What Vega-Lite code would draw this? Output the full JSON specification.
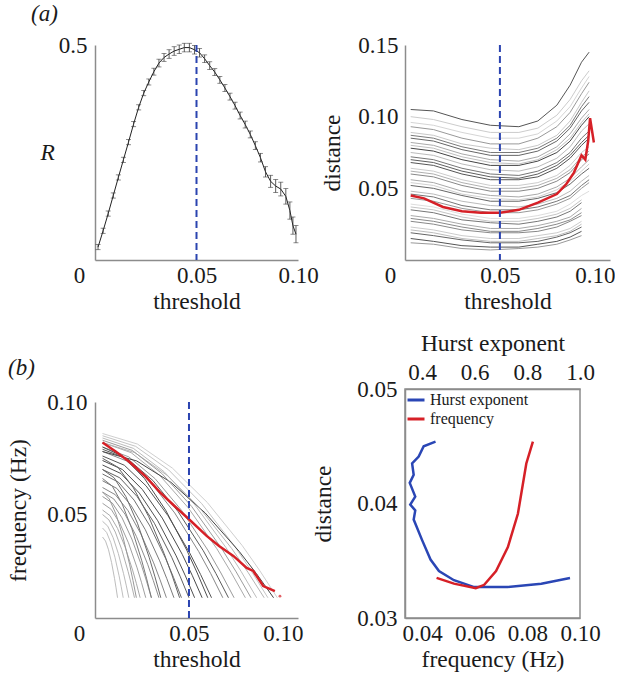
{
"$schema": "https://vega.github.io/schema/vega-lite/v6.json",
"padding": {"left": 6, "top": 3, "right": 0, "bottom": 0},
"spacing": -8,
"config": {
 "font": "Liberation Serif",
 "view": {"stroke": null},
 "axis": {"domainColor": "#8c8c8c", "domainWidth": 1.5, "ticks": false, "tickSize": 0, "grid": false, "labelFont": "Liberation Serif", "labelFontSize": 23, "labelColor": "#1a1a1a", "titleFont": "Liberation Serif", "titleFontSize": 23.5, "titleFontWeight": "normal", "titleColor": "#1a1a1a", "labelFlush": false, "labelOverlap": false},
 "title": {"font": "Liberation Serif", "fontSize": 23, "fontWeight": "normal", "color": "#1a1a1a"}
},
"datasets": {
 "R": [
  {"t":0.0015,"R":0.030,"e":0.006},{"t":0.004,"R":0.068,"e":0.006},{"t":0.0065,"R":0.108,"e":0.006},{"t":0.009,"R":0.150,"e":0.006},{"t":0.0115,"R":0.192,"e":0.006},{"t":0.014,"R":0.233,"e":0.006},{"t":0.0165,"R":0.274,"e":0.006},{"t":0.019,"R":0.316,"e":0.006},{"t":0.0215,"R":0.355,"e":0.006},{"t":0.024,"R":0.388,"e":0.006},{"t":0.0265,"R":0.414,"e":0.007},{"t":0.029,"R":0.438,"e":0.008},{"t":0.0315,"R":0.458,"e":0.009},{"t":0.034,"R":0.471,"e":0.009},{"t":0.0365,"R":0.479,"e":0.01},{"t":0.039,"R":0.486,"e":0.01},{"t":0.0415,"R":0.490,"e":0.01},{"t":0.044,"R":0.494,"e":0.01},{"t":0.0465,"R":0.494,"e":0.01},{"t":0.049,"R":0.489,"e":0.01},{"t":0.0515,"R":0.482,"e":0.01},{"t":0.054,"R":0.468,"e":0.009},{"t":0.0565,"R":0.452,"e":0.009},{"t":0.059,"R":0.437,"e":0.008},{"t":0.0615,"R":0.419,"e":0.008},{"t":0.064,"R":0.400,"e":0.008},{"t":0.0665,"R":0.380,"e":0.008},{"t":0.069,"R":0.359,"e":0.008},{"t":0.0715,"R":0.336,"e":0.008},{"t":0.074,"R":0.315,"e":0.008},{"t":0.0765,"R":0.292,"e":0.008},{"t":0.079,"R":0.266,"e":0.009},{"t":0.0815,"R":0.238,"e":0.01},{"t":0.084,"R":0.205,"e":0.012},{"t":0.0865,"R":0.183,"e":0.014},{"t":0.089,"R":0.172,"e":0.015},{"t":0.0915,"R":0.165,"e":0.016},{"t":0.094,"R":0.148,"e":0.018},{"t":0.096,"R":0.115,"e":0.02},{"t":0.0975,"R":0.080,"e":0.02},{"t":0.099,"R":0.060,"e":0.02}
 ],
 "dist": [
  {"g":1,"t":0.003,"d":0.105},{"g":1,"t":0.015,"d":0.104},{"g":1,"t":0.03,"d":0.098},{"g":1,"t":0.045,"d":0.094},{"g":1,"t":0.06,"d":0.093},{"g":1,"t":0.07,"d":0.097},{"g":1,"t":0.08,"d":0.108},{"g":1,"t":0.087,"d":0.122},{"g":1,"t":0.093,"d":0.138},{"g":1,"t":0.097,"d":0.145},
  {"g":2,"t":0.003,"d":0.100},{"g":2,"t":0.015,"d":0.098},{"g":2,"t":0.03,"d":0.093},{"g":2,"t":0.045,"d":0.089},{"g":2,"t":0.06,"d":0.089},{"g":2,"t":0.07,"d":0.092},{"g":2,"t":0.08,"d":0.101},{"g":2,"t":0.087,"d":0.112},{"g":2,"t":0.093,"d":0.125},{"g":2,"t":0.097,"d":0.132},
  {"g":3,"t":0.003,"d":0.093},{"g":3,"t":0.015,"d":0.091},{"g":3,"t":0.03,"d":0.085},{"g":3,"t":0.045,"d":0.081},{"g":3,"t":0.06,"d":0.081},{"g":3,"t":0.07,"d":0.085},{"g":3,"t":0.08,"d":0.093},{"g":3,"t":0.087,"d":0.103},{"g":3,"t":0.093,"d":0.116},{"g":3,"t":0.097,"d":0.124},
  {"g":4,"t":0.003,"d":0.089},{"g":4,"t":0.015,"d":0.087},{"g":4,"t":0.03,"d":0.081},{"g":4,"t":0.045,"d":0.078},{"g":4,"t":0.06,"d":0.077},{"g":4,"t":0.07,"d":0.080},{"g":4,"t":0.08,"d":0.087},{"g":4,"t":0.087,"d":0.097},{"g":4,"t":0.093,"d":0.110},{"g":4,"t":0.097,"d":0.118},
  {"g":5,"t":0.003,"d":0.085},{"g":5,"t":0.015,"d":0.083},{"g":5,"t":0.03,"d":0.077},{"g":5,"t":0.045,"d":0.073},{"g":5,"t":0.06,"d":0.073},{"g":5,"t":0.07,"d":0.076},{"g":5,"t":0.08,"d":0.083},{"g":5,"t":0.087,"d":0.092},{"g":5,"t":0.093,"d":0.104},{"g":5,"t":0.097,"d":0.110},
  {"g":6,"t":0.003,"d":0.082},{"g":6,"t":0.015,"d":0.080},{"g":6,"t":0.03,"d":0.074},{"g":6,"t":0.045,"d":0.070},{"g":6,"t":0.06,"d":0.069},{"g":6,"t":0.07,"d":0.072},{"g":6,"t":0.08,"d":0.079},{"g":6,"t":0.087,"d":0.088},{"g":6,"t":0.093,"d":0.099},{"g":6,"t":0.097,"d":0.105},
  {"g":7,"t":0.003,"d":0.078},{"g":7,"t":0.015,"d":0.076},{"g":7,"t":0.03,"d":0.070},{"g":7,"t":0.045,"d":0.066},{"g":7,"t":0.06,"d":0.066},{"g":7,"t":0.07,"d":0.069},{"g":7,"t":0.08,"d":0.075},{"g":7,"t":0.087,"d":0.083},{"g":7,"t":0.093,"d":0.094},{"g":7,"t":0.097,"d":0.100},
  {"g":8,"t":0.003,"d":0.075},{"g":8,"t":0.015,"d":0.073},{"g":8,"t":0.03,"d":0.067},{"g":8,"t":0.045,"d":0.063},{"g":8,"t":0.06,"d":0.062},{"g":8,"t":0.07,"d":0.065},{"g":8,"t":0.08,"d":0.071},{"g":8,"t":0.087,"d":0.079},{"g":8,"t":0.093,"d":0.090},{"g":8,"t":0.097,"d":0.095},
  {"g":9,"t":0.003,"d":0.072},{"g":9,"t":0.015,"d":0.070},{"g":9,"t":0.03,"d":0.064},{"g":9,"t":0.045,"d":0.060},{"g":9,"t":0.06,"d":0.059},{"g":9,"t":0.07,"d":0.062},{"g":9,"t":0.08,"d":0.068},{"g":9,"t":0.087,"d":0.075},{"g":9,"t":0.093,"d":0.085},{"g":9,"t":0.097,"d":0.090},
  {"g":10,"t":0.003,"d":0.068},{"g":10,"t":0.015,"d":0.066},{"g":10,"t":0.03,"d":0.060},{"g":10,"t":0.045,"d":0.056},{"g":10,"t":0.06,"d":0.056},{"g":10,"t":0.07,"d":0.058},{"g":10,"t":0.08,"d":0.064},{"g":10,"t":0.087,"d":0.071},{"g":10,"t":0.093,"d":0.080},{"g":10,"t":0.097,"d":0.085},
  {"g":11,"t":0.003,"d":0.064},{"g":11,"t":0.015,"d":0.062},{"g":11,"t":0.03,"d":0.056},{"g":11,"t":0.045,"d":0.052},{"g":11,"t":0.06,"d":0.052},{"g":11,"t":0.07,"d":0.054},{"g":11,"t":0.08,"d":0.059},{"g":11,"t":0.087,"d":0.066},{"g":11,"t":0.093,"d":0.075},{"g":11,"t":0.097,"d":0.079},
  {"g":12,"t":0.003,"d":0.060},{"g":12,"t":0.015,"d":0.058},{"g":12,"t":0.03,"d":0.052},{"g":12,"t":0.045,"d":0.048},{"g":12,"t":0.06,"d":0.048},{"g":12,"t":0.07,"d":0.050},{"g":12,"t":0.08,"d":0.055},{"g":12,"t":0.087,"d":0.061},{"g":12,"t":0.093,"d":0.070},{"g":12,"t":0.097,"d":0.074},
  {"g":13,"t":0.003,"d":0.056},{"g":13,"t":0.015,"d":0.054},{"g":13,"t":0.03,"d":0.048},{"g":13,"t":0.045,"d":0.045},{"g":13,"t":0.06,"d":0.044},{"g":13,"t":0.07,"d":0.046},{"g":13,"t":0.08,"d":0.051},{"g":13,"t":0.087,"d":0.057},{"g":13,"t":0.093,"d":0.065},{"g":13,"t":0.097,"d":0.070},
  {"g":14,"t":0.003,"d":0.052},{"g":14,"t":0.015,"d":0.050},{"g":14,"t":0.03,"d":0.045},{"g":14,"t":0.045,"d":0.041},{"g":14,"t":0.06,"d":0.041},{"g":14,"t":0.07,"d":0.043},{"g":14,"t":0.08,"d":0.047},{"g":14,"t":0.087,"d":0.053},{"g":14,"t":0.093,"d":0.060},{"g":14,"t":0.097,"d":0.064},
  {"g":15,"t":0.003,"d":0.048},{"g":15,"t":0.015,"d":0.046},{"g":15,"t":0.03,"d":0.041},{"g":15,"t":0.045,"d":0.038},{"g":15,"t":0.06,"d":0.037},{"g":15,"t":0.07,"d":0.039},{"g":15,"t":0.08,"d":0.043},{"g":15,"t":0.087,"d":0.048},{"g":15,"t":0.093,"d":0.055},{"g":15,"t":0.097,"d":0.059},
  {"g":16,"t":0.003,"d":0.043},{"g":16,"t":0.015,"d":0.041},{"g":16,"t":0.03,"d":0.036},{"g":16,"t":0.045,"d":0.033},{"g":16,"t":0.06,"d":0.033},{"g":16,"t":0.07,"d":0.035},{"g":16,"t":0.08,"d":0.039},{"g":16,"t":0.087,"d":0.043},{"g":16,"t":0.093,"d":0.050},{"g":16,"t":0.097,"d":0.054},
  {"g":17,"t":0.003,"d":0.039},{"g":17,"t":0.015,"d":0.037},{"g":17,"t":0.03,"d":0.032},{"g":17,"t":0.045,"d":0.029},{"g":17,"t":0.06,"d":0.029},{"g":17,"t":0.07,"d":0.031},{"g":17,"t":0.08,"d":0.034},{"g":17,"t":0.087,"d":0.039},{"g":17,"t":0.093,"d":0.045},{"g":17,"t":0.097,"d":0.048},
  {"g":18,"t":0.003,"d":0.035},{"g":18,"t":0.015,"d":0.033},{"g":18,"t":0.03,"d":0.028},{"g":18,"t":0.045,"d":0.026},{"g":18,"t":0.06,"d":0.025},{"g":18,"t":0.07,"d":0.027},{"g":18,"t":0.08,"d":0.030},{"g":18,"t":0.087,"d":0.034},{"g":18,"t":0.093,"d":0.040},
  {"g":19,"t":0.003,"d":0.031},{"g":19,"t":0.015,"d":0.029},{"g":19,"t":0.03,"d":0.025},{"g":19,"t":0.045,"d":0.022},{"g":19,"t":0.06,"d":0.022},{"g":19,"t":0.07,"d":0.024},{"g":19,"t":0.08,"d":0.027},{"g":19,"t":0.087,"d":0.030},{"g":19,"t":0.093,"d":0.036},
  {"g":20,"t":0.003,"d":0.027},{"g":20,"t":0.015,"d":0.025},{"g":20,"t":0.03,"d":0.021},{"g":20,"t":0.045,"d":0.019},{"g":20,"t":0.06,"d":0.019},{"g":20,"t":0.07,"d":0.020},{"g":20,"t":0.08,"d":0.023},{"g":20,"t":0.087,"d":0.027},{"g":20,"t":0.093,"d":0.031},
  {"g":21,"t":0.003,"d":0.023},{"g":21,"t":0.015,"d":0.021},{"g":21,"t":0.03,"d":0.017},{"g":21,"t":0.045,"d":0.015},{"g":21,"t":0.06,"d":0.015},{"g":21,"t":0.07,"d":0.017},{"g":21,"t":0.08,"d":0.019},{"g":21,"t":0.087,"d":0.022},{"g":21,"t":0.093,"d":0.027},
  {"g":22,"t":0.003,"d":0.019},{"g":22,"t":0.015,"d":0.017},{"g":22,"t":0.03,"d":0.014},{"g":22,"t":0.045,"d":0.012},{"g":22,"t":0.06,"d":0.012},{"g":22,"t":0.07,"d":0.013},{"g":22,"t":0.08,"d":0.016},{"g":22,"t":0.087,"d":0.019},{"g":22,"t":0.093,"d":0.023},
  {"g":23,"t":0.003,"d":0.015},{"g":23,"t":0.015,"d":0.013},{"g":23,"t":0.03,"d":0.010},{"g":23,"t":0.045,"d":0.009},{"g":23,"t":0.06,"d":0.009},{"g":23,"t":0.07,"d":0.011},{"g":23,"t":0.08,"d":0.013},{"g":23,"t":0.087,"d":0.016},{"g":23,"t":0.093,"d":0.020},
  {"g":24,"t":0.003,"d":0.012},{"g":24,"t":0.015,"d":0.011},{"g":24,"t":0.03,"d":0.008},{"g":24,"t":0.045,"d":0.007},{"g":24,"t":0.06,"d":0.008},{"g":24,"t":0.07,"d":0.009},{"g":24,"t":0.08,"d":0.011},{"g":24,"t":0.087,"d":0.014},{"g":24,"t":0.093,"d":0.017},
  {"g":25,"t":0.003,"d":0.096},{"g":25,"t":0.015,"d":0.094},{"g":25,"t":0.03,"d":0.089},{"g":25,"t":0.045,"d":0.085},{"g":25,"t":0.06,"d":0.085},{"g":25,"t":0.07,"d":0.088},{"g":25,"t":0.08,"d":0.097},{"g":25,"t":0.087,"d":0.107},{"g":25,"t":0.093,"d":0.120},{"g":25,"t":0.097,"d":0.128},
  {"g":26,"t":0.003,"d":0.087},{"g":26,"t":0.015,"d":0.085},{"g":26,"t":0.03,"d":0.079},{"g":26,"t":0.045,"d":0.075},{"g":26,"t":0.06,"d":0.075},{"g":26,"t":0.07,"d":0.078},{"g":26,"t":0.08,"d":0.085},{"g":26,"t":0.087,"d":0.094},{"g":26,"t":0.093,"d":0.107},{"g":26,"t":0.097,"d":0.114},
  {"g":27,"t":0.003,"d":0.080},{"g":27,"t":0.015,"d":0.078},{"g":27,"t":0.03,"d":0.072},{"g":27,"t":0.045,"d":0.068},{"g":27,"t":0.06,"d":0.067},{"g":27,"t":0.07,"d":0.070},{"g":27,"t":0.08,"d":0.077},{"g":27,"t":0.087,"d":0.085},{"g":27,"t":0.093,"d":0.096},{"g":27,"t":0.097,"d":0.102},
  {"g":28,"t":0.003,"d":0.070},{"g":28,"t":0.015,"d":0.068},{"g":28,"t":0.03,"d":0.062},{"g":28,"t":0.045,"d":0.058},{"g":28,"t":0.06,"d":0.057},{"g":28,"t":0.07,"d":0.060},{"g":28,"t":0.08,"d":0.066},{"g":28,"t":0.087,"d":0.073},{"g":28,"t":0.093,"d":0.082},{"g":28,"t":0.097,"d":0.087},
  {"g":29,"t":0.003,"d":0.062},{"g":29,"t":0.015,"d":0.060},{"g":29,"t":0.03,"d":0.054},{"g":29,"t":0.045,"d":0.050},{"g":29,"t":0.06,"d":0.050},{"g":29,"t":0.07,"d":0.052},{"g":29,"t":0.08,"d":0.057},{"g":29,"t":0.087,"d":0.063},{"g":29,"t":0.093,"d":0.072},{"g":29,"t":0.097,"d":0.076},
  {"g":30,"t":0.003,"d":0.054},{"g":30,"t":0.015,"d":0.052},{"g":30,"t":0.03,"d":0.046},{"g":30,"t":0.045,"d":0.043},{"g":30,"t":0.06,"d":0.042},{"g":30,"t":0.07,"d":0.044},{"g":30,"t":0.08,"d":0.049},{"g":30,"t":0.087,"d":0.055},{"g":30,"t":0.093,"d":0.062},{"g":30,"t":0.097,"d":0.067},
  {"g":31,"t":0.003,"d":0.046},{"g":31,"t":0.015,"d":0.044},{"g":31,"t":0.03,"d":0.038},{"g":31,"t":0.045,"d":0.035},{"g":31,"t":0.06,"d":0.035},{"g":31,"t":0.07,"d":0.037},{"g":31,"t":0.08,"d":0.041},{"g":31,"t":0.087,"d":0.045},{"g":31,"t":0.093,"d":0.052},{"g":31,"t":0.097,"d":0.056},
  {"g":32,"t":0.003,"d":0.037},{"g":32,"t":0.015,"d":0.035},{"g":32,"t":0.03,"d":0.030},{"g":32,"t":0.045,"d":0.027},{"g":32,"t":0.06,"d":0.027},{"g":32,"t":0.07,"d":0.029},{"g":32,"t":0.08,"d":0.032},{"g":32,"t":0.087,"d":0.036},{"g":32,"t":0.093,"d":0.042},
  {"g":33,"t":0.003,"d":0.029},{"g":33,"t":0.015,"d":0.027},{"g":33,"t":0.03,"d":0.023},{"g":33,"t":0.045,"d":0.020},{"g":33,"t":0.06,"d":0.020},{"g":33,"t":0.07,"d":0.022},{"g":33,"t":0.08,"d":0.025},{"g":33,"t":0.087,"d":0.028},{"g":33,"t":0.093,"d":0.033},
  {"g":34,"t":0.003,"d":0.021},{"g":34,"t":0.015,"d":0.019},{"g":34,"t":0.03,"d":0.015},{"g":34,"t":0.045,"d":0.013},{"g":34,"t":0.06,"d":0.013},{"g":34,"t":0.07,"d":0.015},{"g":34,"t":0.08,"d":0.017},{"g":34,"t":0.087,"d":0.020},{"g":34,"t":0.093,"d":0.025}
 ],
 "distRed": [
  {"t":0.003,"d":0.045},{"t":0.01,"d":0.043},{"t":0.02,"d":0.037},{"t":0.03,"d":0.034},{"t":0.04,"d":0.033},{"t":0.05,"d":0.033},{"t":0.06,"d":0.035},{"t":0.07,"d":0.040},{"t":0.08,"d":0.046},{"t":0.085,"d":0.053},{"t":0.089,"d":0.061},{"t":0.093,"d":0.073},{"t":0.095,"d":0.070},{"t":0.0965,"d":0.083},{"t":0.0975,"d":0.099},{"t":0.0995,"d":0.082}
 ],
 "freq": [
  {"k":1,"t":0.004,"f":0.086},{"k":1,"t":0.0226,"f":0.0813},{"k":1,"t":0.0412,"f":0.0706},{"k":1,"t":0.0598,"f":0.0553},{"k":1,"t":0.0784,"f":0.0361},{"k":1,"t":0.0877,"f":0.025},{"k":1,"t":0.097,"f":0.013},
  {"k":2,"t":0.004,"f":0.085},{"k":2,"t":0.0216,"f":0.0803},{"k":2,"t":0.0392,"f":0.0698},{"k":2,"t":0.0568,"f":0.0548},{"k":2,"t":0.0744,"f":0.0358},{"k":2,"t":0.0832,"f":0.0248},{"k":2,"t":0.092,"f":0.013},
  {"k":3,"t":0.004,"f":0.084},{"k":3,"t":0.0204,"f":0.0794},{"k":3,"t":0.0368,"f":0.069},{"k":3,"t":0.0532,"f":0.0542},{"k":3,"t":0.0696,"f":0.0354},{"k":3,"t":0.0778,"f":0.0246},{"k":3,"t":0.086,"f":0.013},
  {"k":4,"t":0.004,"f":0.082},{"k":4,"t":0.0192,"f":0.0775},{"k":4,"t":0.0344,"f":0.0674},{"k":4,"t":0.0496,"f":0.053},{"k":4,"t":0.0648,"f":0.0348},{"k":4,"t":0.0724,"f":0.0243},{"k":4,"t":0.080,"f":0.013},
  {"k":5,"t":0.004,"f":0.080},{"k":5,"t":0.018,"f":0.0756},{"k":5,"t":0.032,"f":0.0659},{"k":5,"t":0.046,"f":0.0519},{"k":5,"t":0.060,"f":0.0342},{"k":5,"t":0.067,"f":0.024},{"k":5,"t":0.074,"f":0.013},
  {"k":6,"t":0.004,"f":0.078},{"k":6,"t":0.0168,"f":0.0738},{"k":6,"t":0.0296,"f":0.0643},{"k":6,"t":0.0424,"f":0.0507},{"k":6,"t":0.0552,"f":0.0335},{"k":6,"t":0.0616,"f":0.0237},{"k":6,"t":0.068,"f":0.013},
  {"k":7,"t":0.004,"f":0.076},{"k":7,"t":0.0156,"f":0.0719},{"k":7,"t":0.0272,"f":0.0627},{"k":7,"t":0.0388,"f":0.0495},{"k":7,"t":0.0504,"f":0.0329},{"k":7,"t":0.0562,"f":0.0233},{"k":7,"t":0.062,"f":0.013},
  {"k":8,"t":0.004,"f":0.074},{"k":8,"t":0.0146,"f":0.0700},{"k":8,"t":0.0252,"f":0.0611},{"k":8,"t":0.0358,"f":0.0484},{"k":8,"t":0.0464,"f":0.0323},{"k":8,"t":0.0517,"f":0.023},{"k":8,"t":0.057,"f":0.013},
  {"k":9,"t":0.004,"f":0.072},{"k":9,"t":0.0138,"f":0.0682},{"k":9,"t":0.0236,"f":0.0595},{"k":9,"t":0.0334,"f":0.0472},{"k":9,"t":0.0432,"f":0.0316},{"k":9,"t":0.0481,"f":0.0227},{"k":9,"t":0.053,"f":0.013},
  {"k":10,"t":0.004,"f":0.070},{"k":10,"t":0.0132,"f":0.0663},{"k":10,"t":0.0224,"f":0.058},{"k":10,"t":0.0316,"f":0.0461},{"k":10,"t":0.0408,"f":0.031},{"k":10,"t":0.0454,"f":0.0223},{"k":10,"t":0.050,"f":0.013},
  {"k":11,"t":0.004,"f":0.068},{"k":11,"t":0.0124,"f":0.0644},{"k":11,"t":0.0208,"f":0.0564},{"k":11,"t":0.0292,"f":0.0449},{"k":11,"t":0.0376,"f":0.0304},{"k":11,"t":0.0418,"f":0.022},{"k":11,"t":0.046,"f":0.013},
  {"k":12,"t":0.004,"f":0.065},{"k":12,"t":0.0116,"f":0.0616},{"k":12,"t":0.0192,"f":0.054},{"k":12,"t":0.0268,"f":0.0432},{"k":12,"t":0.0344,"f":0.0294},{"k":12,"t":0.0382,"f":0.0215},{"k":12,"t":0.042,"f":0.013},
  {"k":13,"t":0.004,"f":0.062},{"k":13,"t":0.0108,"f":0.0588},{"k":13,"t":0.0176,"f":0.0517},{"k":13,"t":0.0244,"f":0.0414},{"k":13,"t":0.0312,"f":0.0285},{"k":13,"t":0.0346,"f":0.021},{"k":13,"t":0.038,"f":0.013},
  {"k":14,"t":0.004,"f":0.060},{"k":14,"t":0.010,"f":0.0569},{"k":14,"t":0.016,"f":0.0501},{"k":14,"t":0.022,"f":0.0403},{"k":14,"t":0.028,"f":0.0279},{"k":14,"t":0.031,"f":0.0207},{"k":14,"t":0.034,"f":0.013},
  {"k":15,"t":0.004,"f":0.058},{"k":15,"t":0.0092,"f":0.0551},{"k":15,"t":0.0144,"f":0.0485},{"k":15,"t":0.0196,"f":0.0391},{"k":15,"t":0.0248,"f":0.0272},{"k":15,"t":0.0274,"f":0.0204},{"k":15,"t":0.030,"f":0.013},
  {"k":16,"t":0.004,"f":0.055},{"k":16,"t":0.0086,"f":0.0523},{"k":16,"t":0.0132,"f":0.0461},{"k":16,"t":0.0178,"f":0.0374},{"k":16,"t":0.0224,"f":0.0263},{"k":16,"t":0.0247,"f":0.0199},{"k":16,"t":0.027,"f":0.013},
  {"k":17,"t":0.004,"f":0.052},{"k":17,"t":0.008,"f":0.0495},{"k":17,"t":0.012,"f":0.0438},{"k":17,"t":0.016,"f":0.0356},{"k":17,"t":0.020,"f":0.0253},{"k":17,"t":0.022,"f":0.0194},{"k":17,"t":0.024,"f":0.013},
  {"k":18,"t":0.004,"f":0.050},{"k":18,"t":0.0074,"f":0.0476},{"k":18,"t":0.0108,"f":0.0422},{"k":18,"t":0.0142,"f":0.0345},{"k":18,"t":0.0176,"f":0.0247},{"k":18,"t":0.0193,"f":0.0191},{"k":18,"t":0.021,"f":0.013},
  {"k":19,"t":0.004,"f":0.047},{"k":19,"t":0.0068,"f":0.0448},{"k":19,"t":0.0096,"f":0.0398},{"k":19,"t":0.0124,"f":0.0327},{"k":19,"t":0.0152,"f":0.0237},{"k":19,"t":0.0166,"f":0.0186},{"k":19,"t":0.018,"f":0.013},
  {"k":20,"t":0.004,"f":0.044},{"k":20,"t":0.0062,"f":0.042},{"k":20,"t":0.0084,"f":0.0375},{"k":20,"t":0.0106,"f":0.031},{"k":20,"t":0.0128,"f":0.0228},{"k":20,"t":0.0139,"f":0.0181},{"k":20,"t":0.015,"f":0.013},
  {"k":21,"t":0.004,"f":0.078},{"k":21,"t":0.0222,"f":0.0738},{"k":21,"t":0.0404,"f":0.0643},{"k":21,"t":0.0586,"f":0.0507},{"k":21,"t":0.0768,"f":0.0335},{"k":21,"t":0.0859,"f":0.0237},{"k":21,"t":0.095,"f":0.013},
  {"k":22,"t":0.004,"f":0.082},{"k":22,"t":0.0212,"f":0.0775},{"k":22,"t":0.0384,"f":0.0674},{"k":22,"t":0.0556,"f":0.053},{"k":22,"t":0.0728,"f":0.0348},{"k":22,"t":0.0814,"f":0.0243},{"k":22,"t":0.090,"f":0.013},
  {"k":23,"t":0.004,"f":0.040},{"k":23,"t":0.0056,"f":0.0382},{"k":23,"t":0.0072,"f":0.0343},{"k":23,"t":0.0088,"f":0.0287},{"k":23,"t":0.0104,"f":0.0215},{"k":23,"t":0.0112,"f":0.0174},{"k":23,"t":0.012,"f":0.013},
  {"k":24,"t":0.004,"f":0.060},{"k":24,"t":0.0076,"f":0.0569},{"k":24,"t":0.0112,"f":0.0501},{"k":24,"t":0.0148,"f":0.0403},{"k":24,"t":0.0184,"f":0.0279},{"k":24,"t":0.0202,"f":0.0207},{"k":24,"t":0.022,"f":0.013},
  {"k":25,"t":0.004,"f":0.070},{"k":25,"t":0.0102,"f":0.0663},{"k":25,"t":0.0164,"f":0.058},{"k":25,"t":0.0226,"f":0.0461},{"k":25,"t":0.0288,"f":0.031},{"k":25,"t":0.0319,"f":0.0223},{"k":25,"t":0.035,"f":0.013},
  {"k":26,"t":0.004,"f":0.066},{"k":26,"t":0.0092,"f":0.0626},{"k":26,"t":0.0144,"f":0.0548},{"k":26,"t":0.0196,"f":0.0437},{"k":26,"t":0.0248,"f":0.0297},{"k":26,"t":0.0274,"f":0.0217},{"k":26,"t":0.030,"f":0.013},
  {"k":27,"t":0.004,"f":0.079},{"k":27,"t":0.0174,"f":0.0747},{"k":27,"t":0.0308,"f":0.0651},{"k":27,"t":0.0442,"f":0.0513},{"k":27,"t":0.0576,"f":0.0339},{"k":27,"t":0.0643,"f":0.0238},{"k":27,"t":0.071,"f":0.013},
  {"k":28,"t":0.004,"f":0.083},{"k":28,"t":0.0198,"f":0.0785},{"k":28,"t":0.0356,"f":0.0682},{"k":28,"t":0.0514,"f":0.0536},{"k":28,"t":0.0672,"f":0.0351},{"k":28,"t":0.0751,"f":0.0245},{"k":28,"t":0.083,"f":0.013},
  {"k":29,"t":0.004,"f":0.075},{"k":29,"t":0.0122,"f":0.071},{"k":29,"t":0.0204,"f":0.0619},{"k":29,"t":0.0286,"f":0.049},{"k":29,"t":0.0368,"f":0.0326},{"k":29,"t":0.0409,"f":0.0232},{"k":29,"t":0.045,"f":0.013},
  {"k":30,"t":0.004,"f":0.080},{"k":30,"t":0.0152,"f":0.0757},{"k":30,"t":0.0264,"f":0.0659},{"k":30,"t":0.0376,"f":0.0519},{"k":30,"t":0.0488,"f":0.0342},{"k":30,"t":0.0544,"f":0.024},{"k":30,"t":0.060,"f":0.013}
 ],
 "freqRed": [
  {"t":0.004,"f":0.082},{"t":0.011,"f":0.078},{"t":0.0186,"f":0.0732},{"t":0.027,"f":0.0668},{"t":0.0346,"f":0.0598},{"t":0.042,"f":0.054},{"t":0.05,"f":0.0479},{"t":0.0594,"f":0.0405},{"t":0.066,"f":0.036},{"t":0.0736,"f":0.0316},{"t":0.0807,"f":0.0263},{"t":0.0842,"f":0.0249},{"t":0.0895,"f":0.0182},{"t":0.0957,"f":0.0159}
 ],
 "freqDot": [{"t":0.0984,"f":0.0137}],
 "hurst": [
  {"i":1,"h":0.451,"d":0.0454,"s":"Hurst exponent"},{"i":2,"h":0.406,"d":0.0450,"s":"Hurst exponent"},{"i":3,"h":0.387,"d":0.0441,"s":"Hurst exponent"},{"i":4,"h":0.362,"d":0.0435,"s":"Hurst exponent"},{"i":5,"h":0.368,"d":0.0425,"s":"Hurst exponent"},{"i":6,"h":0.353,"d":0.0418,"s":"Hurst exponent"},{"i":7,"h":0.374,"d":0.0406,"s":"Hurst exponent"},{"i":8,"h":0.355,"d":0.0399,"s":"Hurst exponent"},{"i":9,"h":0.374,"d":0.0394,"s":"Hurst exponent"},{"i":10,"h":0.368,"d":0.0386,"s":"Hurst exponent"},{"i":11,"h":0.400,"d":0.0368,"s":"Hurst exponent"},{"i":12,"h":0.432,"d":0.0351,"s":"Hurst exponent"},{"i":13,"h":0.464,"d":0.0341,"s":"Hurst exponent"},{"i":14,"h":0.521,"d":0.0333,"s":"Hurst exponent"},{"i":15,"h":0.598,"d":0.0327,"s":"Hurst exponent"},{"i":16,"h":0.725,"d":0.0327,"s":"Hurst exponent"},{"i":17,"h":0.853,"d":0.0330,"s":"Hurst exponent"},{"i":18,"h":0.962,"d":0.0335,"s":"Hurst exponent"}
 ],
 "freqDist": [
  {"f":0.0455,"d":0.0335,"s":"frequency"},{"f":0.0521,"d":0.0330,"s":"frequency"},{"f":0.0604,"d":0.0326,"s":"frequency"},{"f":0.0636,"d":0.0329,"s":"frequency"},{"f":0.0681,"d":0.0341,"s":"frequency"},{"f":0.0726,"d":0.0362,"s":"frequency"},{"f":0.0764,"d":0.0391,"s":"frequency"},{"f":0.0796,"d":0.0435,"s":"frequency"},{"f":0.0821,"d":0.0454,"s":"frequency"}
 ]
},
"resolve": {"scale": {"x": "independent", "y": "independent", "color": "independent"}},
"hconcat": [
 {
  "bounds": "flush",
  "spacing": 142,
  "resolve": {"scale": {"x": "independent", "y": "independent", "color": "independent"}},
  "vconcat": [
   {
    "width": 203, "height": 215,
    "title": {"text": "(a)", "anchor": "start", "frame": "group", "dx": -64, "offset": 8, "fontStyle": "italic"},
    "layer": [
     {"data": {"name": "R"}, "mark": {"type": "line", "color": "#222222", "strokeWidth": 1},
      "encoding": {
       "x": {"field": "t", "type": "quantitative", "scale": {"domain": [0, 0.1], "nice": false},
             "axis": {"values": [0, 0.05, 0.1], "labelExpr": "datum.value == 0 ? '0' : format(datum.value, '.2f')", "title": "threshold", "labelPadding": 4, "titlePadding": 2, "labelOffset": {"condition": {"test": "datum.value == 0", "value": -16}, "value": 0}}},
       "y": {"field": "R", "type": "quantitative", "scale": {"domain": [0, 0.5], "nice": false},
             "axis": {"values": [0.5], "format": ".1f", "title": "R", "titleAngle": 0, "titleFontStyle": "italic", "titleAlign": "right", "titleBaseline": "middle", "titlePadding": 4, "labelPadding": 8}}
      }},
     {"data": {"name": "R"}, "mark": {"type": "errorbar", "ticks": {"size": 5}, "color": "#333333", "thickness": 0.8},
      "encoding": {"x": {"field": "t", "type": "quantitative"}, "y": {"field": "R", "type": "quantitative"}, "yError": {"field": "e"}}},
     {"data": {"values": [{"thr": 0.05}]}, "mark": {"type": "rule", "color": "#2b44b0", "strokeWidth": 2, "strokeDash": [7, 4]},
      "encoding": {"x": {"field": "thr", "type": "quantitative"}}}
    ]
   },
   {
    "width": 203, "height": 216,
    "title": {"text": "(b)", "anchor": "start", "frame": "group", "dx": -87, "offset": 11, "fontStyle": "italic"},
    "layer": [
     {"data": {"name": "freq"}, "mark": {"type": "line", "strokeWidth": 1},
      "encoding": {
       "x": {"field": "t", "type": "quantitative", "scale": {"domain": [0, 0.108], "nice": false},
             "axis": {"values": [0, 0.05, 0.1], "labelExpr": "datum.value == 0 ? '0' : format(datum.value, '.2f')", "title": "threshold", "labelPadding": 4, "titlePadding": 2, "labelOffset": {"condition": {"test": "datum.value == 0", "value": -16}, "value": 0}}},
       "y": {"field": "f", "type": "quantitative", "scale": {"domain": [0.004, 0.1], "nice": false},
             "axis": {"values": [0.05, 0.1], "format": ".2f", "title": "frequency (Hz)", "labelPadding": 8, "titlePadding": 16}},
       "color": {"field": "k", "type": "nominal", "legend": null, "scale": {"range": ["#cfcfcf", "#c4c4c4", "#bcbcbc", "#aaaaaa", "#9a9a9a", "#888888", "#555555", "#4a4a4a", "#505050", "#606060", "#707070", "#7a7a7a", "#888888", "#8e8e8e", "#999999", "#a0a0a0", "#aaaaaa", "#b0b0b0", "#bbbbbb", "#c0c0c0", "#444444", "#b5b5b5", "#bdbdbd", "#999999", "#6a6a6a", "#7a7a7a", "#5a5a5a", "#9c9c9c", "#666666", "#4f4f4f"]}}
      }},
     {"data": {"name": "freqRed"}, "mark": {"type": "line", "color": "#d62027", "strokeWidth": 2.5},
      "encoding": {"x": {"field": "t", "type": "quantitative"}, "y": {"field": "f", "type": "quantitative"}}},
     {"data": {"name": "freqDot"}, "mark": {"type": "point", "color": "#d62027", "filled": true, "size": 8},
      "encoding": {"x": {"field": "t", "type": "quantitative"}, "y": {"field": "f", "type": "quantitative"}}},
     {"data": {"values": [{"thr": 0.05}]}, "mark": {"type": "rule", "color": "#2b44b0", "strokeWidth": 2, "strokeDash": [7, 4]},
      "encoding": {"x": {"field": "thr", "type": "quantitative"}}}
    ]
   }
  ]
 },
 {
  "bounds": "flush",
  "spacing": 129,
  "resolve": {"scale": {"x": "independent", "y": "independent", "color": "independent"}},
  "vconcat": [
   {
    "width": 205, "height": 215,
    "layer": [
     {"data": {"name": "dist"}, "mark": {"type": "line", "strokeWidth": 1},
      "encoding": {
       "x": {"field": "t", "type": "quantitative", "scale": {"domain": [0, 0.108], "nice": false},
             "axis": {"values": [0, 0.05, 0.1], "labelExpr": "datum.value == 0 ? '0' : format(datum.value, '.2f')", "title": "threshold", "labelPadding": 4, "titlePadding": 2, "labelOffset": {"condition": {"test": "datum.value == 0", "value": -15}, "value": 0}}},
       "y": {"field": "d", "type": "quantitative", "scale": {"domain": [0, 0.15], "nice": false},
             "axis": {"values": [0.05, 0.1, 0.15], "format": ".2f", "title": "distance", "labelPadding": 7, "titlePadding": 13}},
       "color": {"field": "g", "type": "nominal", "legend": null, "scale": {"range": ["#555555", "#cccccc", "#999999", "#c8c8c8", "#666666", "#aaaaaa", "#444444", "#bbbbbb", "#777777", "#555555", "#cccccc", "#888888", "#aaaaaa", "#666666", "#bbbbbb", "#999999", "#dddddd", "#777777", "#aaaaaa", "#888888", "#cccccc", "#666666", "#555555", "#999999", "#d5d5d5", "#7a7a7a", "#c0c0c0", "#5f5f5f", "#b0b0b0", "#d0d0d0", "#777777", "#c5c5c5", "#8a8a8a", "#bdbdbd"]}}
      }},
     {"data": {"name": "distRed"}, "mark": {"type": "line", "color": "#d62027", "strokeWidth": 2.5},
      "encoding": {"x": {"field": "t", "type": "quantitative"}, "y": {"field": "d", "type": "quantitative"}}},
     {"data": {"values": [{"thr": 0.05}]}, "mark": {"type": "rule", "color": "#2b44b0", "strokeWidth": 2, "strokeDash": [7, 4]},
      "encoding": {"x": {"field": "thr", "type": "quantitative"}}}
    ]
   },
   {
    "width": 175, "height": 229,
    "view": {"stroke": "#8c8c8c", "strokeWidth": 1.5},
    "layer": [
     {"data": {"name": "hurst"}, "mark": {"type": "line", "strokeWidth": 2.5},
      "encoding": {
       "x": {"field": "h", "type": "quantitative", "scale": {"domain": [0.335, 1.0], "nice": false},
             "axis": {"orient": "top", "values": [0.4, 0.6, 0.8, 1.0], "format": ".1f", "title": "Hurst exponent", "labelPadding": 5, "titlePadding": 6}},
       "y": {"field": "d", "type": "quantitative", "scale": {"domain": [0.03, 0.05], "nice": false},
             "axis": {"values": [0.03, 0.04, 0.05], "format": ".2f", "title": "distance", "labelPadding": 8, "titlePadding": 21}},
       "order": {"field": "i"},
       "color": {"field": "s", "type": "nominal", "scale": {"domain": ["Hurst exponent", "frequency"], "range": ["#2a46b5", "#d62027"]},
                 "legend": {"title": null, "orient": "top-left", "offset": 1, "labelFont": "Liberation Serif", "labelFontSize": 16, "labelColor": "#1a1a1a", "symbolType": "stroke", "symbolStrokeWidth": 3, "symbolSize": 289, "rowPadding": 1}}
      }},
     {"data": {"name": "freqDist"}, "mark": {"type": "line", "strokeWidth": 2.5},
      "encoding": {
       "x": {"field": "f", "type": "quantitative", "scale": {"domain": [0.0335, 0.1], "nice": false},
             "axis": {"orient": "bottom", "values": [0.04, 0.06, 0.08, 0.1], "format": ".2f", "title": "frequency (Hz)", "labelPadding": 4, "titlePadding": 2}},
       "y": {"field": "d", "type": "quantitative"},
       "color": {"field": "s", "type": "nominal"}
      }}
    ],
    "resolve": {"scale": {"x": "independent"}, "axis": {"x": "independent"}}
   }
  ]
 }
]
}
